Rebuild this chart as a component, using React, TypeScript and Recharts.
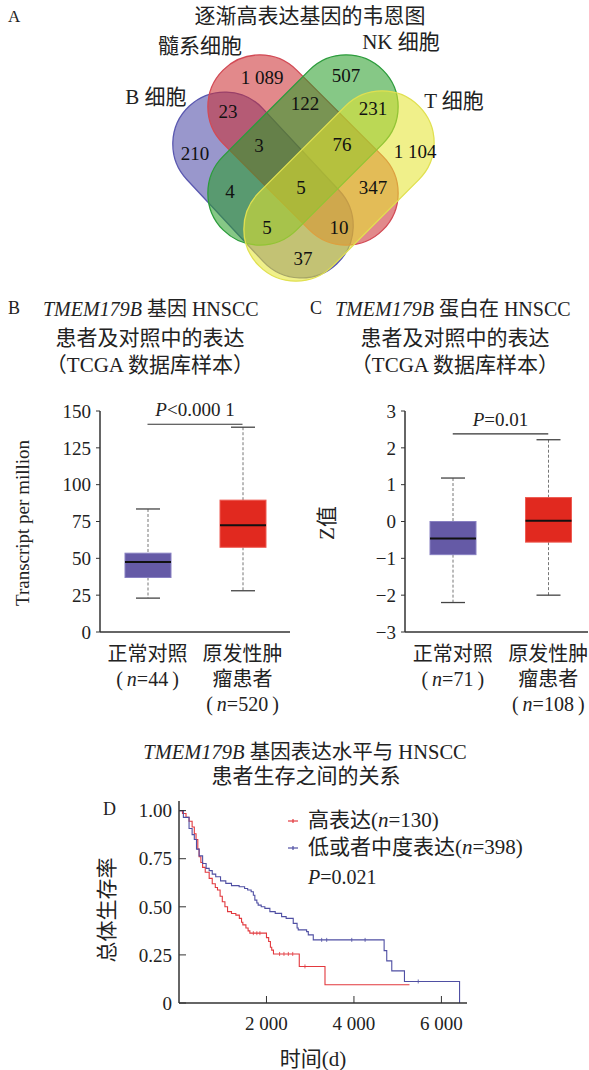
import React from "react";
import { Bar, ComposedChart, Line, ReferenceLine, Scatter, ScatterChart, XAxis, YAxis } from "recharts";

const FONT = '"Liberation Serif", "Noto Sans CJK SC", serif';
const INK = "#222";

// A: Venn diagram of gradually up-regulated genes
const vennSetNames = ["B 细胞", "髓系细胞", "NK 细胞", "T 细胞"];
const vennRegions = ["B", "M", "NK", "T", "B+M", "M+NK", "NK+T", "B+M+NK", "M+NK+T", "B+NK", "B+M+NK+T", "M+T", "B+NK+T", "B+M+T", "B+T"];
const vennCounts = [210, 1089, 507, 1104, 23, 122, 231, 3, 76, 4, 5, 347, 5, 10, 37];

// layout of the venn (chart units == px)
const vennSetLayout = [
  { x: 263, y: 185, angle: 47, len: 216, fill: "#4946a4", stroke: "#5a58b0" },
  { x: 303, y: 150, angle: 45, len: 226, fill: "#cc2c30", stroke: "#d24a55" },
  { x: 303, y: 150, angle: -45, len: 226, fill: "#279d27", stroke: "#2c9c3c" },
  { x: 339, y: 186, angle: -45, len: 226, fill: "#e4e42e", stroke: "#e0e050" }
];
const vennLabelLayout = [
  [195, 153], [262, 77], [346, 75], [415, 151], [228, 111], [305, 103], [373, 108],
  [259, 145], [342, 144], [230, 191], [301, 187], [373, 187], [267, 227], [339, 227], [303, 258]
];
const CAP_W = 104;

// B: TMEM179B mRNA (TPM)
const groups = ["正常对照", "原发性肿瘤患者"];
const groupLines = [["正常对照"], ["原发性肿", "瘤患者"]];
const geneN = [44, 520];
const geneMin = [23, 28];
const geneQ1 = [37, 57.5];
const geneMedian = [47.5, 72.5];
const geneQ3 = [53.5, 89.5];
const geneMax = [83.5, 139];
const geneTicks = [0, 25, 50, 75, 100, 125, 150];
const geneSigY = 141;
const geneP = "P<0.000 1";

// C: TMEM179B protein (Z value)
const proteinN = [71, 108];
const proteinMin = [-2.2, -2.0];
const proteinQ1 = [-0.9, -0.56];
const proteinMedian = [-0.46, 0.02];
const proteinQ3 = [0.0, 0.65];
const proteinMax = [1.18, 2.22];
const proteinTicks = [-3, -2, -1, 0, 1, 2, 3];
const proteinSigY = 2.38;
const proteinP = "P=0.01";

// D: Kaplan-Meier
const kmHighTime = [0, 80, 160, 230, 300, 350, 390, 430, 460, 500, 540, 600, 690, 760, 830, 880, 940, 990, 1050, 1110, 1200, 1300, 1380, 1430, 1460, 1530, 1580, 1620, 2000, 2050, 2090, 2120, 2160, 2750, 3338, 5270];
const kmHighSurv = [1, 0.985, 0.965, 0.945, 0.915, 0.88, 0.85, 0.8, 0.76, 0.73, 0.705, 0.68, 0.648, 0.62, 0.6, 0.587, 0.555, 0.526, 0.5, 0.475, 0.465, 0.457, 0.44, 0.42, 0.406, 0.39, 0.375, 0.363, 0.34, 0.32, 0.29, 0.275, 0.255, 0.19, 0.095, 0.095];
const kmLowTime = [0, 100, 230, 300, 350, 400, 460, 540, 620, 690, 760, 840, 950, 1070, 1200, 1375, 1500, 1570, 1650, 1700, 1734, 1780, 1810, 1880, 1963, 2078, 2200, 2346, 2450, 2612, 2700, 2726, 2918, 2956, 3070, 4690, 4750, 4865, 5155, 6415];
const kmLowSurv = [1, 0.965, 0.907, 0.875, 0.85, 0.8, 0.765, 0.725, 0.7, 0.688, 0.67, 0.656, 0.635, 0.622, 0.61, 0.604, 0.595, 0.587, 0.578, 0.56, 0.535, 0.52, 0.509, 0.5, 0.492, 0.475, 0.466, 0.449, 0.44, 0.414, 0.39, 0.38, 0.371, 0.354, 0.328, 0.272, 0.219, 0.167, 0.112, 0];
const kmHighCensorTime = [1700, 1780, 1850, 2300, 2400, 2500, 2600, 2880];
const kmHighCensorSurv = [0.363, 0.363, 0.363, 0.255, 0.255, 0.255, 0.255, 0.19];
const kmLowCensorTime = [3262, 3377, 3950, 4255, 5470];
const kmLowCensorSurv = [0.328, 0.328, 0.328, 0.328, 0.112];
const kmXTicks = [2000, 4000, 6000];
const kmYTicks = [0, 0.25, 0.5, 0.75, 1];
const kmLegend = [
  { label: "高表达", n: 130, color: "#e2393e" },
  { label: "低或者中度表达", n: 398, color: "#4f4fa3" }
];
const kmP = "P=0.021";

const fmtThousands = (v: number) => {
  const s = String(v);
  return v >= 1000 ? s.slice(0, s.length - 3) + " " + s.slice(-3) : s;
};

const vennShapes = vennSetNames.map((name, i) => ({ name, ...vennSetLayout[i] }));
const vennLabels = vennRegions.map((region, i) => ({
  region,
  count: vennCounts[i],
  x: vennLabelLayout[i][0],
  y: vennLabelLayout[i][1]
}));

const geneRows = groups.map((group, i) => ({
  group, n: geneN[i], min: geneMin[i], q1: geneQ1[i], median: geneMedian[i], q3: geneQ3[i], max: geneMax[i]
}));
const proteinRows = groups.map((group, i) => ({
  group, n: proteinN[i], min: proteinMin[i], q1: proteinQ1[i], median: proteinMedian[i], q3: proteinQ3[i], max: proteinMax[i]
}));
const kmHigh = kmHighTime.map((t, i) => ({ t, s: kmHighSurv[i] }));
const kmLow = kmLowTime.map((t, i) => ({ t, s: kmLowSurv[i] }));
const kmHighCensor = kmHighCensorTime.map((t, i) => ({ t, s: kmHighCensorSurv[i] }));
const kmLowCensor = kmLowCensorTime.map((t, i) => ({ t, s: kmLowCensorSurv[i] }));

const boxColors = ["#655aa6", "#e1291f"];
const boxStrokes = ["#8880c2", "#ee5b52"];

function Txt({ x, y, size = 21, align = "center", rotate = false, children }: any) {
  const tx = align === "center" ? "-50%" : "0";
  return (
    <div
      style={{
        position: "absolute",
        left: x,
        top: y,
        transform: `translate(${tx},-50%)${rotate ? " rotate(-90deg)" : ""}`,
        fontSize: size,
        lineHeight: 1.2,
        whiteSpace: "nowrap",
        color: INK
      }}
    >
      {children}
    </div>
  );
}

const CapsuleShape = (p: any) => {
  const { cx, cy, payload } = p;
  const len = payload.len;
  return (
    <g transform={`translate(${cx},${cy}) rotate(${payload.angle})`}>
      <rect
        x={-len / 2}
        y={-CAP_W / 2}
        width={len}
        height={CAP_W}
        rx={CAP_W / 2}
        ry={CAP_W / 2}
        fill={payload.fill}
        fillOpacity={0.56}
        stroke={payload.stroke}
        strokeWidth={1.3}
      />
    </g>
  );
};

const CountShape = (p: any) => (
  <text x={p.cx} y={p.cy} dy="0.35em" textAnchor="middle" fontSize={19} fontFamily={FONT} fill="#111">
    {fmtThousands(p.payload.count)}
  </text>
);

function VennChart() {
  return (
    <ScatterChart width={589} height={290} margin={{ top: 0, right: 0, bottom: 0, left: 0 }}>
      <XAxis type="number" dataKey="x" domain={[0, 589]} hide />
      <YAxis type="number" dataKey="y" domain={[0, 290]} reversed hide />
      <Scatter data={vennShapes} shape={CapsuleShape} isAnimationActive={false} />
      <Scatter data={vennLabels} shape={CountShape} isAnimationActive={false} />
    </ScatterChart>
  );
}

// box + whiskers drawn from a [min, max] range bar
const BoxShape = (p: any) => {
  const { x, y, width, height, payload, index } = p;
  const top = Math.min(y, y + height);
  const h = Math.abs(height);
  const ppu = h / (payload.max - payload.min);
  const py = (v: number) => top + (payload.max - v) * ppu;
  const cx = x + width / 2;
  const cap = 12;
  return (
    <g>
      <line x1={cx} x2={cx} y1={py(payload.max)} y2={py(payload.q3)} stroke="#777" strokeDasharray="3 2" />
      <line x1={cx} x2={cx} y1={py(payload.q1)} y2={py(payload.min)} stroke="#777" strokeDasharray="3 2" />
      <line x1={cx - cap} x2={cx + cap} y1={py(payload.max)} y2={py(payload.max)} stroke="#444" strokeWidth={1.3} />
      <line x1={cx - cap} x2={cx + cap} y1={py(payload.min)} y2={py(payload.min)} stroke="#444" strokeWidth={1.3} />
      <rect
        x={x}
        y={py(payload.q3)}
        width={width}
        height={py(payload.q1) - py(payload.q3)}
        fill={boxColors[index]}
        stroke={boxStrokes[index]}
      />
      <line x1={x} x2={x + width} y1={py(payload.median)} y2={py(payload.median)} stroke="#111" strokeWidth={2} />
    </g>
  );
};

const GroupTick = (p: any) => {
  const { x, y, payload, rows } = p;
  const i = groups.indexOf(payload.value);
  const lines = groupLines[i] || [];
  return (
    <g fontFamily={FONT} fontSize={20} fill={INK}>
      {lines.map((l: string, k: number) => (
        <text key={k} x={x} y={y + 29 + k * 25} textAnchor="middle">
          {l}
        </text>
      ))}
      <text x={x} y={y + 29 + lines.length * 25} textAnchor="middle">
        {"(\u2009"}
        <tspan fontStyle="italic">n</tspan>
        {`=${rows[i].n}\u2009)`}
      </text>
    </g>
  );
};

const sigLabel = (text: string) => (props: any) => {
  const vb = props.viewBox || {};
  const cx = (vb.x || 0) + (vb.width || 0) / 2;
  return (
    <text x={cx} y={(vb.y || 0) - 8} textAnchor="middle" fontSize={19} fontFamily={FONT} fill={INK}>
      <tspan fontStyle="italic">{text[0]}</tspan>
      {text.slice(1)}
    </text>
  );
};

const minusFmt = (v: number) => String(v).replace("-", "−");

function BoxPanel({ rows, domain, ticks, width, yAxisWidth, marginRight, padRight, sigY, pText }: any) {
  return (
    <ComposedChart width={width} height={345} data={rows} margin={{ top: 21, right: marginRight, bottom: 0, left: 0 }}>
      <XAxis
        dataKey="group"
        type="category"
        height={103}
        tickSize={0}
        tickMargin={0}
        tickLine={false}
        padding={{ left: 0, right: padRight }}
        axisLine={{ stroke: "#333", strokeWidth: 1.5 }}
        tick={<GroupTick rows={rows} />}
        interval={0}
      />
      <YAxis
        type="number"
        domain={domain}
        ticks={ticks}
        width={yAxisWidth}
        tickSize={4}
        tickMargin={5}
        tickFormatter={minusFmt}
        axisLine={{ stroke: "#333", strokeWidth: 1.5 }}
        tickLine={{ stroke: "#333" }}
        tick={{ fontSize: 19, fill: INK, fontFamily: FONT }}
        interval={0}
      />
      <Bar
        dataKey={(d: any) => [d.min, d.max]}
        barSize={46}
        shape={BoxShape}
        isAnimationActive={false}
      />
      <ReferenceLine
        segment={[{ x: groups[0], y: sigY }, { x: groups[1], y: sigY }]}
        stroke="#333"
        strokeWidth={1.2}
        ifOverflow="visible"
        label={sigLabel(pText)}
      />
    </ComposedChart>
  );
}

const censorShape = (color: string) => (p: any) => (
  <line x1={p.cx} x2={p.cx} y1={p.cy - 2} y2={p.cy + 2} stroke={color} strokeWidth={0.8} />
);

function KmChart() {
  return (
    <ComposedChart width={400} height={263} margin={{ top: 21, right: 23, bottom: 0, left: 0 }}>
      <XAxis
        type="number"
        dataKey="t"
        domain={[0, 6585]}
        ticks={kmXTicks}
        allowDataOverflow
        height={40}
        tickSize={-7}
        tickMargin={21}
        tickFormatter={fmtThousands}
        axisLine={{ stroke: "#333", strokeWidth: 1.5 }}
        tickLine={{ stroke: "#333" }}
        tick={{ fontSize: 19, fill: INK, fontFamily: FONT }}
      />
      <YAxis
        type="number"
        dataKey="s"
        domain={[0, 1.05]}
        ticks={kmYTicks}
        width={89}
        tickSize={-7}
        tickMargin={14}
        tickFormatter={(v: number) => (v === 0 ? "0" : v.toFixed(2))}
        axisLine={{ stroke: "#333", strokeWidth: 1.5 }}
        tickLine={{ stroke: "#333" }}
        tick={{ fontSize: 19, fill: INK, fontFamily: FONT }}
      />
      <Line data={kmHigh} dataKey="s" type="stepAfter" stroke={kmLegend[0].color} strokeWidth={1.1} dot={false} isAnimationActive={false} />
      <Line data={kmLow} dataKey="s" type="stepAfter" stroke={kmLegend[1].color} strokeWidth={1.1} dot={false} isAnimationActive={false} />
      <Scatter data={kmHighCensor} dataKey="s" shape={censorShape(kmLegend[0].color)} isAnimationActive={false} />
      <Scatter data={kmLowCensor} dataKey="s" shape={censorShape(kmLegend[1].color)} isAnimationActive={false} />
    </ComposedChart>
  );
}

export default function App() {
  return (
    <div
      style={{
        position: "absolute",
        left: 0,
        top: 0,
        width: 589,
        height: 1070,
        background: "#fff",
        fontFamily: FONT,
        overflow: "hidden"
      }}
    >
      {/* A */}
      <div style={{ position: "absolute", left: 0, top: 0 }}>
        <VennChart />
      </div>
      <Txt x={8} y={17} size={17} align="start">A</Txt>
      <Txt x={310} y={17}>逐渐高表达基因的韦恩图</Txt>
      <Txt x={200} y={47}>{vennSetNames[1]}</Txt>
      <Txt x={401} y={43}>{vennSetNames[2]}</Txt>
      <Txt x={156} y={98}>{vennSetNames[0]}</Txt>
      <Txt x={454} y={102}>{vennSetNames[3]}</Txt>

      {/* B */}
      <div style={{ position: "absolute", left: 0, top: 390 }}>
        <BoxPanel rows={geneRows} domain={[0, 150]} ticks={geneTicks} width={300} yAxisWidth={100} marginRight={10} padRight={0} sigY={geneSigY} pText={geneP} />
      </div>
      <Txt x={8} y={309} size={18} align="start">B</Txt>
      <Txt x={43} y={309} size={20} align="start">
        <i>TMEM179B</i> 基因 HNSCC
      </Txt>
      <Txt x={150} y={339}>患者及对照中的表达</Txt>
      <Txt x={150} y={366}>（TCGA 数据库样本）</Txt>
      <Txt x={23} y={523} size={19} rotate>Transcript per million</Txt>

      {/* C */}
      <div style={{ position: "absolute", left: 300, top: 390 }}>
        <BoxPanel rows={proteinRows} domain={[-3, 3]} ticks={proteinTicks} width={289} yAxisWidth={105} marginRight={1} padRight={-8} sigY={proteinSigY} pText={proteinP} />
      </div>
      <Txt x={310} y={309} size={18} align="start">C</Txt>
      <Txt x={335} y={309} size={20} align="start">
        <i>TMEM179B</i> 蛋白在 HNSCC
      </Txt>
      <Txt x={455} y={339}>患者及对照中的表达</Txt>
      <Txt x={455} y={366}>（TCGA 数据库样本）</Txt>
      <Txt x={328} y={523} rotate>Z值</Txt>

      {/* D */}
      <Txt x={305} y={752} size={20.5}>
        <i>TMEM179B</i> 基因表达水平与 HNSCC
      </Txt>
      <Txt x={306} y={777}>患者生存之间的关系</Txt>
      <div style={{ position: "absolute", left: 90, top: 780 }}>
        <KmChart />
      </div>
      <Txt x={103} y={810} size={18} align="start">D</Txt>
      <Txt x={108} y={910} rotate>总体生存率</Txt>
      <Txt x={313} y={1060}>时间(d)</Txt>
      {kmLegend.map((item, i) => (
        <React.Fragment key={item.label}>
          <svg style={{ position: "absolute", left: 287, top: 815 + i * 27 }} width={12} height={12}>
            <line x1={1} x2={11} y1={6} y2={6} stroke={item.color} strokeWidth={1.2} />
            <line x1={6} x2={6} y1={4} y2={8} stroke={item.color} strokeWidth={1.2} />
          </svg>
          <Txt x={308} y={821 + i * 27} align="start">
            {item.label}(<i>n</i>={item.n})
          </Txt>
        </React.Fragment>
      ))}
      <Txt x={308} y={877} size={20} align="start">
        <i>P</i>
        {kmP.slice(1)}
      </Txt>
    </div>
  );
}
